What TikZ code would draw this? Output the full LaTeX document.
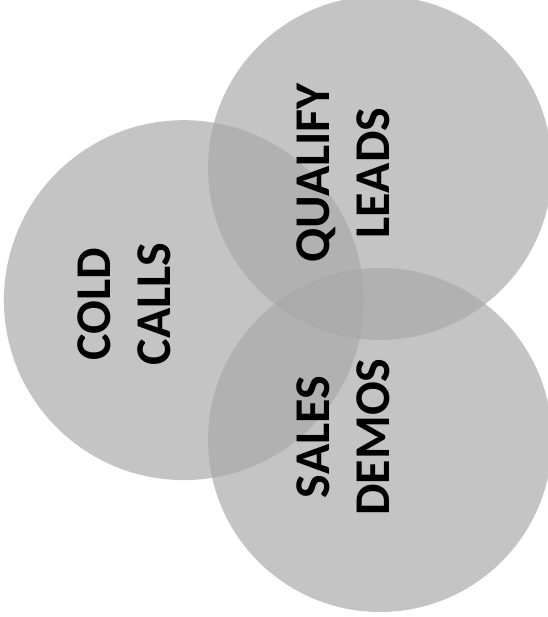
\documentclass[tikz,border=0pt]{standalone}
\usepackage{fontspec}
\setmainfont{Carlito}
\usetikzlibrary{fadings}

% radial fading: opaque disc with a soft rim
\pgfdeclareradialshading{softdiscshade}{\pgfpoint{0bp}{0bp}}{%
  color(0bp)=(white); color(45bp)=(white); color(50bp)=(black); color(72bp)=(black)}
\pgfdeclarefading{softdisc}{\pgfuseshading{softdiscshade}}

\definecolor{discgray}{gray}{0.66}

\begin{document}
\begin{tikzpicture}[x=1pt, y=-1pt,
  disc/.style={fill=discgray, fill opacity=0.68, path fading=softdisc},
  stagelabel/.style={rotate=90, align=center, text=black,
    font=\fontsize{50}{60}\selectfont\bfseries}]
\useasboundingbox (0,0) rectangle (547,617);

\coordinate (cold)  at (184,300);
\coordinate (qual)  at (380,168);
\coordinate (sales) at (380,440);

\fill[disc] (cold)  circle[radius=180];
\fill[disc] (qual)  circle[radius=172];
\fill[disc] (sales) circle[radius=172];

\node[stagelabel] (coldtext)  at (124,304) {COLD\\CALLS};
\node[stagelabel] (qualtext)  at (343,173) {QUALIFY\\LEADS};
\node[stagelabel] (salestext) at (343,437) {SALES\\DEMOS};
\end{tikzpicture}
\end{document}
